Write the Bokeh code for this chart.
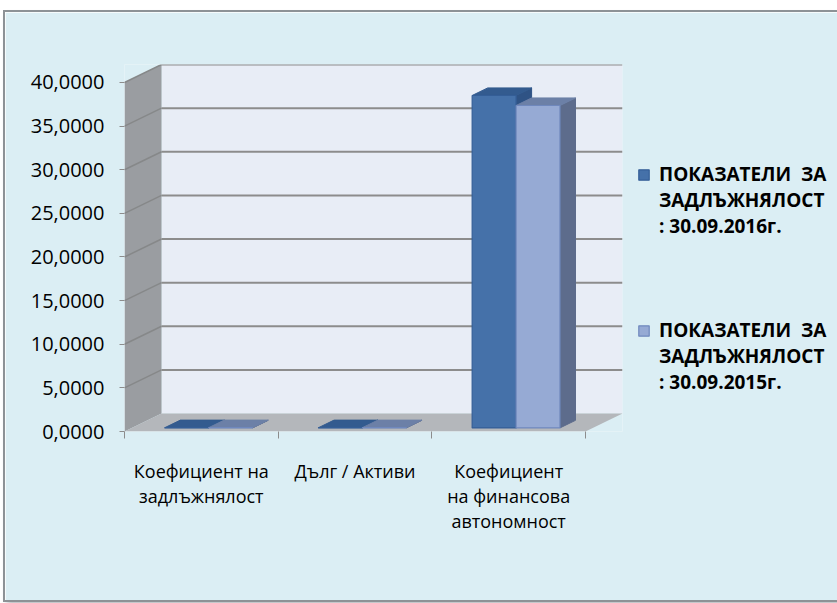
from bokeh.plotting import figure
from bokeh.models import Range1d, FixedTicker, Legend, LegendItem
from bokeh.core.properties import value
from bokeh.embed import file_html
from bokeh.resources import INLINE

# ---------------- data ----------------
categories = ["Коефициент на\nзадлъжнялост", "Дълг / Активи", "Коефициент\nна финансова\nавтономност"]
series_first_line = ["ПОКАЗАТЕЛИ  ЗА", "ПОКАЗАТЕЛИ  ЗА"]
series_rest = ["ЗАДЛЪЖНЯЛОСТ\n: 30.09.2016г.", "ЗАДЛЪЖНЯЛОСТ\n: 30.09.2015г."]
values_2016 = [0.0262, 0.0256, 38.10]
values_2015 = [0.0271, 0.0264, 36.95]
y_ticks = [0, 5, 10, 15, 20, 25, 30, 35, 40]
y_tick_labels = ["0,0000", "5,0000", "10,0000", "15,0000", "20,0000",
                 "25,0000", "30,0000", "35,0000", "40,0000"]

# ---------------- 3D styling (projection offsets) ----------------
DX = 0.2408   # depth offset along x (category units)
DY = 2.063    # depth offset along y (value units)
BW = 1 / 3.5  # bar width (gap width 150%)
ZF, ZB = 0.2, 0.62  # bar front / back depth fraction
FONT = "Open Sans"
BG = "#dbeef4"

n = len(categories)
y_max = y_ticks[-1]

p = figure(frame_width=498, frame_height=367,
           min_border_left=119, min_border_right=213,
           min_border_top=52, min_border_bottom=169,
           x_range=Range1d(0, n + DX), y_range=Range1d(0, y_max + DY),
           output_backend="svg", toolbar_location=None,
           background_fill_color=BG, border_fill_color=BG,
           outline_line_color=None)
p.styles = {"margin-left": "5px", "margin-top": "12px",
            "box-shadow": "0 0 0 2px #8d9296, 2px 3px 5px #9aa0a5"}
p.xgrid.visible = False
p.ygrid.visible = False

# walls and floor
p.patch([DX, n + DX, n + DX, DX], [DY, DY, y_max + DY, y_max + DY],
        fill_color="#e8edf6", line_color=None)
p.patch([0, DX, DX, 0], [0, DY, y_max + DY, y_max],
        fill_color="#9a9da1", line_color=None)
p.patch([0, n, n + DX, DX], [0, 0, DY, DY],
        fill_color="#b4b7bb", line_color=None)

# gridlines
gv = [v for v in y_ticks if v > 0]
p.segment(x0=[DX] * len(gv), y0=[v + DY for v in gv],
          x1=[n + DX] * len(gv), y1=[v + DY for v in gv],
          line_color="#8c8c8c", line_width=2)
p.segment(x0=[0] * len(gv), y0=gv, x1=[DX] * len(gv), y1=[v + DY for v in gv],
          line_color="#868889", line_width=1.5)


def faces(vals, s):
    fx, fy, tx, ty, sx, sy = [], [], [], [], [], []
    ax, ay = ZF * DX, ZF * DY
    bx, by = ZB * DX, ZB * DY
    for i, v in enumerate(vals):
        x0 = i + 0.5 - BW + s * BW
        x1 = x0 + BW
        fx.append([x0 + ax, x1 + ax, x1 + ax, x0 + ax])
        fy.append([ay, ay, v + ay, v + ay])
        tx.append([x0 + ax, x1 + ax, x1 + bx, x0 + bx])
        ty.append([v + ay, v + ay, v + by, v + by])
        sx.append([x1 + ax, x1 + bx, x1 + bx, x1 + ax])
        sy.append([ay, by, v + by, v + ay])
    return fx, fy, tx, ty, sx, sy


styles = [
    dict(front="#4571a9", edge="#345e97", top="#335b8f", side="#2f5385"),
    dict(front="#96aad4", edge="#6f88bd", top="#6c80a7", side="#5d6c8c"),
]
front_renderers = []
for s, vals in enumerate([values_2016, values_2015]):
    fx, fy, tx, ty, sx, sy = faces(vals, s)
    st = styles[s]
    p.patches(sx, sy, fill_color=st["side"], line_color=st["side"], line_width=1)
    p.patches(tx, ty, fill_color=st["top"], line_color=st["top"], line_width=1)
    r = p.patches(fx, fy, fill_color=st["front"], line_color=st["edge"], line_width=1.2)
    front_renderers.append(r)

# invisible renderer for the continuation lines of the legend labels
blank = p.patches(xs=[], ys=[], fill_alpha=0, line_alpha=0)

# axes
yax = p.yaxis[0]
yax.ticker = FixedTicker(ticks=y_ticks)
yax.major_label_overrides = {t: l for t, l in zip(y_ticks, y_tick_labels)}
yax.axis_line_color = None
yax.major_tick_line_color = "#8c8c8c"
yax.major_tick_out = 5
yax.major_tick_in = 0
yax.minor_tick_line_color = None
yax.major_label_standoff = 15
yax.major_label_text_font = FONT
yax.major_label_text_font_size = "20px"
yax.major_label_text_color = "#000000"

xax = p.xaxis[0]
centers = [i + 0.5 for i in range(n)]
xax.ticker = FixedTicker(ticks=centers, minor_ticks=list(range(n + 1)))
xax.major_label_overrides = {c: l for c, l in zip(centers, categories)}
xax.axis_line_color = None
xax.major_tick_line_color = None
xax.major_tick_out = 0
xax.major_tick_in = 0
xax.minor_tick_line_color = "#8c8c8c"
xax.minor_tick_out = 7
xax.minor_tick_in = 0
xax.major_label_standoff = 20
xax.major_label_text_font = FONT
xax.major_label_text_font_size = "18px"
xax.major_label_text_line_height = 1.05
xax.major_label_text_color = "#000000"

items = [
    LegendItem(label=value(series_first_line[0]), renderers=[front_renderers[0]]),
    LegendItem(label=value(series_rest[0]), renderers=[blank]),
    LegendItem(label=value("\u00a0\n\u00a0\n\u00a0"), renderers=[blank]),
    LegendItem(label=value(series_first_line[1]), renderers=[front_renderers[1]]),
    LegendItem(label=value(series_rest[1]), renderers=[blank]),
]
legend = Legend(items=items, location=(15, 36), orientation="vertical",
                glyph_width=13, glyph_height=13, label_standoff=9,
                label_text_font=FONT, label_text_font_style="bold",
                label_text_font_size="19px", label_text_line_height=1.03,
                label_text_color="#000000",
                spacing=0, padding=0, margin=0,
                border_line_color=None, background_fill_alpha=0)
p.add_layout(legend, "right")

open("out.html", "w").write(file_html(p, INLINE))
